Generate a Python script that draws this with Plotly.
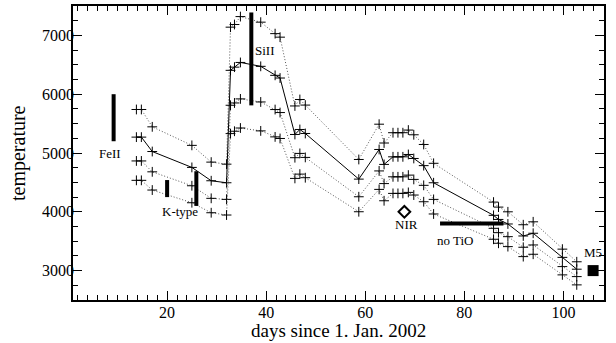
import plotly.graph_objects as go

days = [13.8, 14.8, 17.0, 25.0, 28.9, 32.0, 32.8, 33.6, 34.8, 38.9, 41.8, 42.8,
        45.8, 46.8, 47.9, 58.7, 62.8, 63.8, 65.6, 66.6, 67.6, 68.7, 69.8, 71.8,
        73.8, 85.9, 86.9, 88.8, 91.9, 93.9, 99.8, 102.7]

t_upper = [5740, 5740, 5445, 5130, 4845, 4810, 7140, 7185, 7320, 7225, 7030, 6970,
           5800, 5910, 5815, 4890, 5490, 5170, 5345, 5345, 5345, 5390, 5310, 5145,
           4825, 4165, 4080, 4000, 3780, 3830, 3365, 3150]
t_main = [5270, 5270, 5025, 4755, 4528, 4494, 6406, 6460, 6540, 6474, 6321, 6275,
          5315, 5400, 5332, 4556, 5060, 4806, 4935, 4935, 4935, 4975, 4907, 4785,
          4494, 3940, 3870, 3793, 3589, 3635, 3225, 3024]
t_lower = [4865, 4865, 4680, 4443, 4229, 4211, 5812, 5851, 5920, 5868, 5739, 5688,
           4920, 4993, 4925, 4256, 4695, 4480, 4595, 4595, 4595, 4624, 4551, 4450,
           4211, 3719, 3645, 3577, 3397, 3436, 3068, 2898]
t_bottom = [4535, 4535, 4370, 4154, 3984, 3945, 5330, 5370, 5425, 5376, 5274, 5247,
            4568, 4641, 4580, 4001, 4381, 4188, 4313, 4313, 4313, 4330, 4285, 4171,
            3963, 3533, 3465, 3408, 3238, 3278, 2927, 2757]

# spectral indicators
feii_x, feii_y = [9.2, 9.2], [5200, 6000]
ktype1_x, ktype1_y = [20.0, 20.0], [4250, 4540]
ktype2_x, ktype2_y = [25.9, 25.9], [4100, 4690]
sill_x, sill_y = [37.0, 37.0], [5810, 7390]
notio_x, notio_y = [75.1, 87.9], [3800, 3800]
nir_x, nir_y = [67.9], [4000]
m5_x, m5_y = [106.0], [3000]

labels = ["FeII", "K-type", "SiII", "NIR", "no TiO", "M5"]
label_x = [8.5, 22.6, 39.7, 68.4, 78.3, 106.0]
label_y = [4990, 4000, 6735, 3790, 3520, 3300]

FONT = "Liberation Serif, Times New Roman, serif"

fig = go.Figure()
marker = dict(symbol="cross-thin", size=7, line=dict(width=1, color="black"), color="black")
for vals, style in [(t_upper, "1px,2px"), (t_main, "solid"), (t_lower, "1px,2px"), (t_bottom, "1px,2px")]:
    fig.add_trace(go.Scatter(
        x=days, y=vals, mode="lines+markers",
        line=dict(color="black" if style == "solid" else "#555", width=1, dash=style),
        marker=marker, showlegend=False))

for bx, by in [(feii_x, feii_y), (ktype1_x, ktype1_y), (ktype2_x, ktype2_y),
               (sill_x, sill_y), (notio_x, notio_y)]:
    fig.add_trace(go.Scatter(x=bx, y=by, mode="lines",
                             line=dict(color="black", width=4), showlegend=False))

fig.add_trace(go.Scatter(x=nir_x, y=nir_y, mode="markers",
                         marker=dict(symbol="diamond-open", size=9, color="black",
                                     line=dict(width=2, color="black")),
                         showlegend=False))
fig.add_trace(go.Scatter(x=m5_x, y=m5_y, mode="markers",
                         marker=dict(symbol="square", size=11, color="black"),
                         showlegend=False))

for lx, ly, lt in zip(label_x, label_y, labels):
    fig.add_annotation(x=lx, y=ly, text=lt, showarrow=False,
                       font=dict(family=FONT, size=13, color="black"))

# axis titles
fig.add_annotation(x=0.5, y=0, xref="paper", yref="paper", yanchor="middle",
                   yshift=-30, text="days since 1. Jan. 2002", showarrow=False,
                   font=dict(family=FONT, size=19, color="black"))
fig.add_annotation(x=0, y=0.5, xref="paper", yref="paper", xanchor="center",
                   xshift=-55, text="temperature", textangle=-90, showarrow=False,
                   font=dict(family=FONT, size=20, color="black"))

axis_common = dict(showline=True, linecolor="black", linewidth=1.5, mirror="ticks",
                   ticks="inside", ticklen=9, tickwidth=1.2, tickcolor="black",
                   showgrid=False, zeroline=False, automargin=False,
                   tickfont=dict(family=FONT, size=16, color="black"))

fig.update_xaxes(range=[1, 108.2], tickvals=[20, 40, 60, 80, 100], ticklabelstandoff=-3,
                 minor=dict(ticks="inside", dtick=2, tick0=0, ticklen=5, tickcolor="black", tickwidth=1),
                 **axis_common)
fig.update_yaxes(range=[2500, 7500], tickvals=[3000, 4000, 5000, 6000, 7000], ticklabelstandoff=-6,
                 minor=dict(ticks="inside", dtick=250, tick0=0, ticklen=5, tickcolor="black", tickwidth=1),
                 **axis_common)

fig.update_layout(width=616, height=343, margin=dict(l=73, r=12, t=6, b=43),
                  plot_bgcolor="white", paper_bgcolor="white")

fig.write_html("out.html", config={"displayModeBar": False},
               post_script="document.body.style.margin='0';document.body.style.padding='0';")
